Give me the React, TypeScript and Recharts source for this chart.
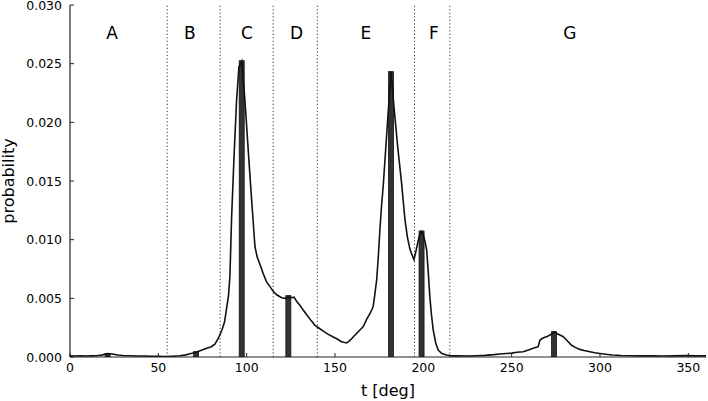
import React from 'react';
import {
  ComposedChart, Line, Bar, XAxis, YAxis, ReferenceLine, Scatter,
} from 'recharts';

// Angle t [deg] of the probability curve
const lineT = [
  0, 3, 6, 9, 12, 15, 18, 21.3, 24, 27, 30, 34, 38, 42, 46, 50, 54, 58, 62, 65,
  68, 71.3, 74, 77, 80, 82, 84, 86, 87.5, 88.7, 89.7, 90.5, 91.5, 93, 94.3, 95.6,
  97.2, 99, 100.9, 102.8, 104.7, 106, 107.5, 109.4, 111.3, 113.2, 115, 117, 119.8,
  122, 123.6, 125, 126.8, 128.5, 130.2, 132, 134, 136.5, 138.7, 141, 143.4, 146,
  149, 151, 153.7, 155, 156.6, 158, 159.4, 161.5, 164.1, 166, 167.9, 170, 171.6,
  172.6, 173.6, 174.5, 175.4, 176.3, 177.3, 179.5, 181.7, 183.5, 185.5, 187.7,
  189.6, 191, 192.4, 193.6, 194.7, 195.8, 196.8, 197.7, 199, 200, 201, 201.9,
  202.8, 203.7, 204.6, 205.6, 207, 208.4, 210.5, 213.2, 216, 220, 225, 230, 235,
  240, 243.3, 247, 250, 253, 256.5, 259.5, 262.2, 265, 266, 267.5, 268.8, 270.2,
  271.6, 273, 274, 275.5, 277.3, 279, 280.1, 282, 283.9, 286, 288.6, 291, 294.3,
  297, 300, 303, 307, 312, 318, 324, 330, 336, 342, 348, 354, 360,
];

// Probability values of the curve
const lineP = [
  0.0001, 0.00009, 0.0001, 0.00009, 0.0001, 0.00011, 0.00016, 0.0003, 0.00026,
  0.00017, 0.00013, 0.00011, 0.00009, 0.00008, 0.00007, 0.00006, 0.00004,
  0.00007, 0.0001, 0.00016, 0.00028, 0.0004, 0.00055, 0.00072, 0.00088, 0.0011,
  0.0016, 0.0023, 0.003, 0.0042, 0.0052, 0.0068, 0.012, 0.0176, 0.0219, 0.0247,
  0.0252, 0.0219, 0.0176, 0.0134, 0.0094, 0.0085, 0.0079, 0.0071, 0.0064, 0.006,
  0.0056, 0.0053, 0.00505, 0.005, 0.0051, 0.00505, 0.0051, 0.0047, 0.0044, 0.004,
  0.0036, 0.0031, 0.0027, 0.00245, 0.0022, 0.00195, 0.0017, 0.00155, 0.0013,
  0.00125, 0.0012, 0.00135, 0.00155, 0.0019, 0.0023, 0.0026, 0.0032, 0.00375,
  0.0043, 0.0054, 0.0066, 0.0085, 0.0108, 0.0128, 0.0146, 0.0195, 0.0243, 0.0211,
  0.0179, 0.0148, 0.0117, 0.0102, 0.0092, 0.0087, 0.0083, 0.009, 0.0097, 0.0103,
  0.0107, 0.0104, 0.0098, 0.0091, 0.0072, 0.0051, 0.0036, 0.0023, 0.0012, 0.0006,
  0.0003, 0.00017, 0.0001, 0.0001, 0.00009, 0.00011, 0.00014, 0.0002, 0.00026,
  0.0003, 0.00033, 0.0004, 0.00045, 0.0006, 0.00074, 0.00088, 0.00145, 0.0016,
  0.00168, 0.00175, 0.00187, 0.002, 0.00215, 0.002, 0.00187, 0.00175, 0.0016,
  0.0013, 0.001, 0.00082, 0.00065, 0.00055, 0.00045, 0.00036, 0.0003, 0.00024,
  0.00017, 0.00013, 0.00011, 0.0001, 0.0001, 0.00009, 0.0001, 0.00012, 0.0001,
  0.0001,
];

// Thick bars (most probable angle in each region)
const barT = [21.3, 71.3, 97.2, 123.6, 181.7, 199, 274];
const barP = [0.0003, 0.00045, 0.02525, 0.00523, 0.02432, 0.01074, 0.00216];

// Region boundaries and labels
const boundaries = [55, 85, 115, 140, 195, 215];
const regionLabels = ['A', 'B', 'C', 'D', 'E', 'F', 'G'];
const regionLabelT = [23.8, 67.9, 100.2, 128.3, 167.5, 206, 283];
const regionLabelP = 0.0276;

const xTicks = [0, 50, 100, 150, 200, 250, 300, 350];
const yTicks = [0, 0.005, 0.01, 0.015, 0.02, 0.025, 0.03];

const table = lineT.map((t, i) => {
  const bi = barT.indexOf(t);
  return { t, p: lineP[i], bar: bi >= 0 ? barP[bi] : null };
});
const labelData = regionLabels.map((name, i) => ({ t: regionLabelT[i], p: regionLabelP, name }));

const FONT = 'DejaVu Sans, sans-serif';
const AX = '#222';
const BAR_W = 5;

const BottomTick = (props: any) => {
  const { x, y, payload } = props;
  return (
    <g>
      <line x1={x} y1={y} x2={x} y2={y - 4} stroke={AX} strokeWidth={1} />
      <text x={x} y={y + 15} textAnchor="middle" fontSize={12.5} fontFamily={FONT} fill="#000">
        {payload.value}
      </text>
    </g>
  );
};
const TopTick = (props: any) => {
  const { x, y } = props;
  return <line x1={x} y1={y} x2={x} y2={y + 4} stroke={AX} strokeWidth={1} />;
};
const LeftTick = (props: any) => {
  const { x, y, payload } = props;
  return (
    <g>
      <line x1={x} y1={y} x2={x + 4} y2={y} stroke={AX} strokeWidth={1} />
      <text x={x - 8} y={y + 4.5} textAnchor="end" fontSize={12.5} fontFamily={FONT} fill="#000">
        {payload.value.toFixed(3)}
      </text>
    </g>
  );
};
const RightTick = (props: any) => {
  const { x, y } = props;
  return <line x1={x} y1={y} x2={x - 4} y2={y} stroke={AX} strokeWidth={1} />;
};

const LabelShape = (props: any) => {
  const { cx, cy, payload } = props;
  return (
    <text x={cx} y={cy + 6} textAnchor="middle" fontSize={17} fontFamily={FONT} fill="#000">
      {payload.name}
    </text>
  );
};

const BarShape = (props: any) => {
  const { x, y, width, height } = props;
  if (height == null || !isFinite(height) || height <= 0) return null;
  const cx = x + width / 2;
  return (
    <rect x={cx - BAR_W / 2} y={y} width={BAR_W} height={height} fill="#333" stroke="#111" strokeWidth={0.8} />
  );
};

const YLabel = (props: any) => {
  const vb = props.viewBox || { x: 0, y: 5, width: 70, height: 352 };
  const cy = vb.y + vb.height / 2;
  const x = 14;
  return (
    <text x={x} y={cy} transform={`rotate(-90 ${x} ${cy})`} textAnchor="middle" fontSize={16} fontFamily={FONT} fill="#000">
      probability
    </text>
  );
};

const XLabel = (props: any) => {
  const vb = props.viewBox || { x: 70, y: 357, width: 636, height: 44 };
  const cx = vb.x + vb.width / 2;
  return (
    <text x={cx} y={vb.y + 39} textAnchor="middle" fontSize={16} fontFamily={FONT} fill="#000">
      t [deg]
    </text>
  );
};

export default function App() {
  return (
    <div style={{ position: 'fixed', left: 0, top: 0, background: '#fff' }}>
      <ComposedChart
        width={708}
        height={401}
        data={table}
        margin={{ top: 5, right: 2, bottom: 0, left: 0 }}
        style={{ fontFamily: FONT }}
      >
        <XAxis
          dataKey="t"
          type="number"
          domain={[0, 360]}
          ticks={xTicks}
          height={44}
          tickSize={0}
          tickMargin={0}
          tickLine={false}
          tick={<BottomTick />}
          axisLine={{ stroke: AX, strokeWidth: 1.2 }}
          interval={0}
          allowDataOverflow
          label={{ content: <XLabel /> }}
        />
        <XAxis
          xAxisId="top"
          orientation="top"
          dataKey="t"
          type="number"
          domain={[0, 360]}
          ticks={xTicks}
          height={0}
          tickSize={0}
          tickMargin={0}
          tickLine={false}
          tick={<TopTick />}
          axisLine={{ stroke: AX, strokeWidth: 1.2 }}
          interval={0}
        />
        <YAxis
          type="number"
          domain={[0, 0.03]}
          ticks={yTicks}
          width={70}
          tickSize={0}
          tickMargin={0}
          tickLine={false}
          tick={<LeftTick />}
          axisLine={{ stroke: AX, strokeWidth: 1.2 }}
          interval={0}
          allowDataOverflow
          label={{ content: <YLabel /> }}
        />
        <YAxis
          yAxisId="right"
          orientation="right"
          type="number"
          domain={[0, 0.03]}
          ticks={yTicks}
          width={0}
          tickSize={0}
          tickMargin={0}
          tickLine={false}
          tick={<RightTick />}
          axisLine={{ stroke: AX, strokeWidth: 1.2 }}
          interval={0}
        />
        {boundaries.map((b) => (
          <ReferenceLine key={b} x={b} stroke="#333" strokeWidth={1} strokeDasharray="1.2 2.3" />
        ))}
        <Bar dataKey="bar" barSize={5} shape={<BarShape />} isAnimationActive={false} />
        <Line
          dataKey="p"
          type="linear"
          stroke="#111"
          strokeWidth={1.6}
          dot={false}
          connectNulls
          isAnimationActive={false}
        />
        <Scatter data={labelData} dataKey="p" shape={<LabelShape />} isAnimationActive={false} />
      </ComposedChart>
    </div>
  );
}
